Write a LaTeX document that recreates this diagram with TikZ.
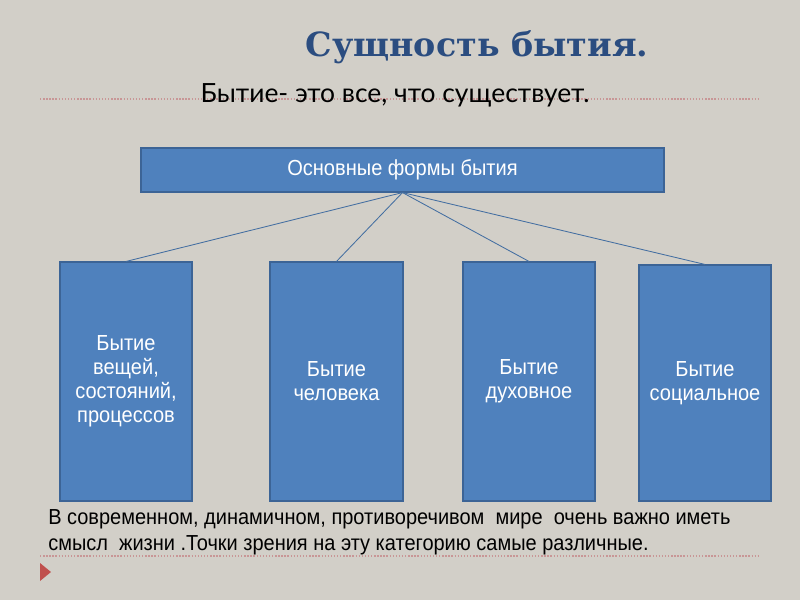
\documentclass[tikz,border=0pt]{standalone}
\usepackage{fontspec}
\setmainfont{Liberation Sans}
\newfontfamily\boxfont[FakeStretch=0.92]{Liberation Sans}
\newfontfamily\subfont{Lato}
\newfontfamily\titlefont{DejaVu Serif}
\definecolor{bg}{RGB}{210,207,200}
\definecolor{boxblue}{RGB}{79,129,189}
\definecolor{boxedge}{RGB}{60,100,150}
\definecolor{titleblue}{RGB}{43,77,128}
\definecolor{dotred}{RGB}{200,150,150}
\definecolor{markred}{RGB}{192,80,77}
\begin{document}
\begin{tikzpicture}[
    x=0.025cm, y=-0.025cm,
    form/.style={rectangle, draw=boxedge, line width=0.8pt, fill=boxblue, text=white, align=center, font=\boxfont\fontsize{15.5}{17}\selectfont, inner sep=0pt},
    link/.style={draw=boxblue!85!black, line width=0.6pt},
    rule/.style={draw=dotred, line width=0.9pt, dash pattern=on 1pt off 1.2pt},
]

% background and frame
\fill[bg] (0,0) rectangle (800,600);
\useasboundingbox (0,0) rectangle (800,600);

\node[font=\titlefont\bfseries\fontsize{23.7}{28}\selectfont, text=titleblue] (title) at (477,47) {Сущность бытия.};
\draw[rule] (40,99) -- (760,99);
\node[font=\subfont\fontsize{18.8}{22}\selectfont, anchor=base] (def) at (395,102) {Бытие- это все, что существует.};
\draw[rule] (40,556) -- (760,556);
\fill[markred] (40,563) -- (51,572) -- (40,581) -- cycle;

% main box
\node[form, minimum width=523*0.025cm, minimum height=44*0.025cm] (forms) at (402.5,170) {Основные формы бытия};

% four forms of being
\node[form, minimum width=132*0.025cm, minimum height=239*0.025cm] (things) at (126,381.5) {Бытие\\вещей,\\состояний,\\процессов};
\node[form, minimum width=133*0.025cm, minimum height=239*0.025cm] (human) at (336.5,381.5) {Бытие\\человека};
\node[form, minimum width=132*0.025cm, minimum height=239*0.025cm] (spirit) at (529,381.5) {Бытие\\духовное};
\node[form, minimum width=132*0.025cm, minimum height=236*0.025cm] (social) at (705,383) {Бытие\\социальное};

\draw[link] (forms.south) -- (things.north);
\draw[link] (forms.south) -- (human.north);
\draw[link] (forms.south) -- (spirit.north);
\draw[link] (forms.south) -- (social.north);

\node[font=\boxfont\fontsize{15.45}{18.5}\selectfont, align=left, anchor=north west, inner sep=0pt] (note) at (48,509.5) {В современном, динамичном, противоречивом\ \ мире\ \ очень важно иметь\\смысл\ \ жизни .Точки зрения на эту категорию самые различные.};

\end{tikzpicture}
\end{document}
